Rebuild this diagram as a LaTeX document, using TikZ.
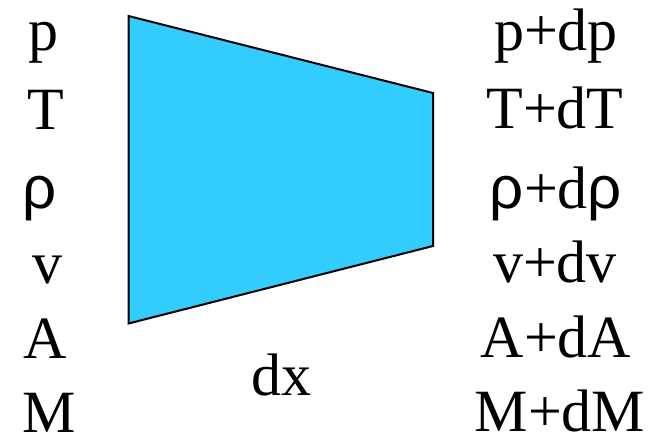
\documentclass[tikz,border=0pt]{standalone}
\usepackage{fontspec}
\setmainfont{Liberation Serif}
\newfontfamily\rhofont{Liberation Sans}
\definecolor{ductblue}{HTML}{33CCFF}
\newcommand{\myrho}{{\rhofont ρ}}
\begin{document}
\begin{tikzpicture}[x=1pt,y=-1pt,
  lbl/.style={inner sep=0pt,anchor=base,font=\fontsize{60}{60}\selectfont},
  duct/.style={fill=ductblue,draw=black,line width=2pt,line join=miter}]
\useasboundingbox (0,0) rectangle (662,437);
\coordinate (tl) at (128.5,16);
\coordinate (bl) at (128.5,323.5);
\coordinate (tr) at (433,93);
\coordinate (br) at (433,246);
\draw[duct] (tl) -- (tr) -- (br) -- (bl) -- cycle;
% left labels
\node[lbl] (lp) at (43,50) {p};
\node[lbl] (lT) at (46,129) {T};
\node[lbl] (lr) at (40,208) {\myrho};
\node[lbl] (lv) at (47,283) {v};
\node[lbl] (lA) at (45,358) {A};
\node[lbl] (lM) at (49,432) {M};
% right labels
\node[lbl] (rp) at (556,50) {p+dp};
\node[lbl] (rT) at (555,128) {T+dT};
\node[lbl] (rr) at (556,208) {\myrho+d\myrho};
\node[lbl] (rv) at (555,282) {v+dv};
\node[lbl] (rA) at (556,357) {A+dA};
\node[lbl] (rM) at (560,431) {M+dM};
\node[lbl] (dx) at (281,395) {dx};
\end{tikzpicture}
\end{document}
